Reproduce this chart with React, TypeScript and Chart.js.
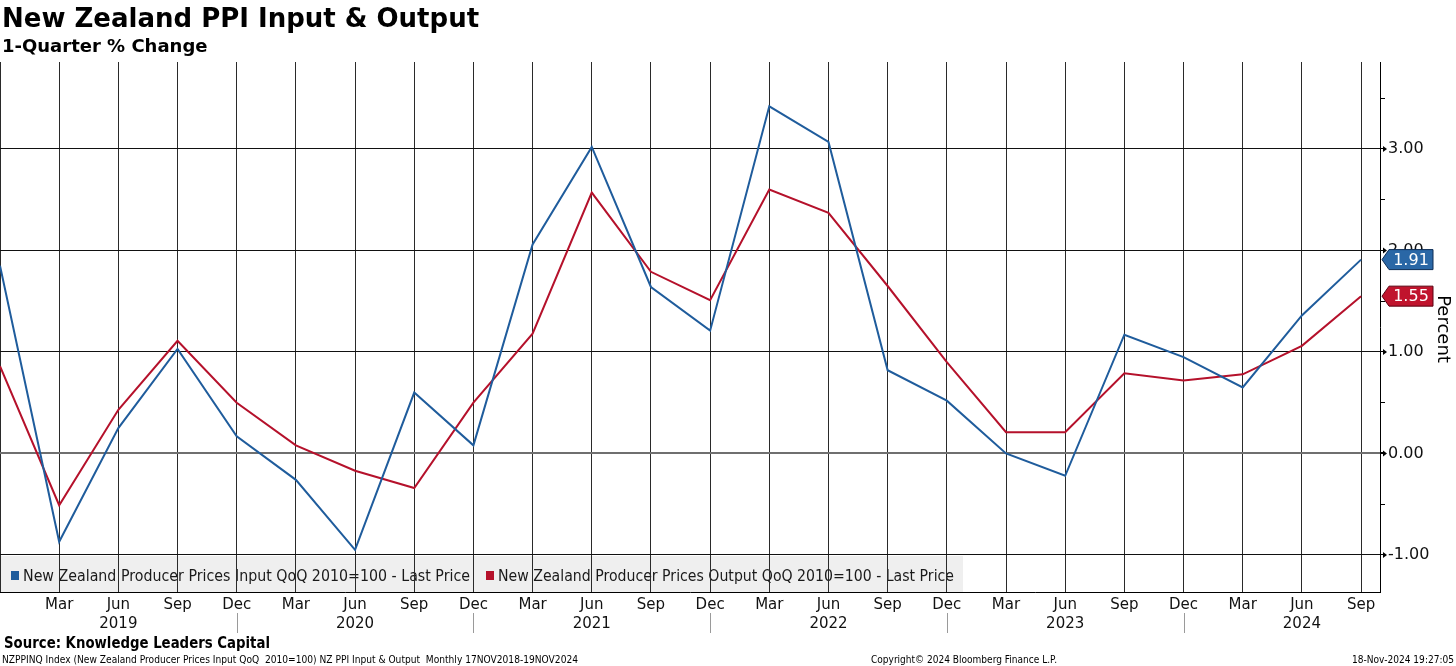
import React, { useEffect, useRef } from "react";
import { Chart, registerables } from "chart.js";

Chart.register(...registerables);

// ---- data ----
const months = [
  "Dec",
  "Mar", "Jun", "Sep", "Dec",
  "Mar", "Jun", "Sep", "Dec",
  "Mar", "Jun", "Sep", "Dec",
  "Mar", "Jun", "Sep", "Dec",
  "Mar", "Jun", "Sep", "Dec",
  "Mar", "Jun", "Sep",
];
const years = [
  2018,
  2019, 2019, 2019, 2019,
  2020, 2020, 2020, 2020,
  2021, 2021, 2021, 2021,
  2022, 2022, 2022, 2022,
  2023, 2023, 2023, 2023,
  2024, 2024, 2024,
];
const inputQoQ = [
  1.85, -0.87, 0.25, 1.03, 0.17, -0.26, -0.95, 0.6, 0.08, 2.06, 3.02, 1.64,
  1.21, 3.42, 3.07, 0.82, 0.52, 0.0, -0.22, 1.17, 0.95, 0.65, 1.36, 1.91,
];
const outputQoQ = [
  0.86, -0.51, 0.43, 1.11, 0.5, 0.08, -0.17, -0.34, 0.5, 1.18, 2.57, 1.79,
  1.51, 2.6, 2.37, 1.65, 0.9, 0.21, 0.21, 0.79, 0.72, 0.78, 1.06, 1.55,
];
const yTicks = [-1, -0.5, 0, 0.5, 1, 1.5, 2, 2.5, 3, 3.5];

const inputLabel = "New Zealand Producer Prices Input QoQ 2010=100 - Last Price";
const outputLabel = "New Zealand Producer Prices Output QoQ 2010=100 - Last Price";

const BLUE = "#1f5c9c";
const RED = "#b5112b";
const FONT = "'DejaVu Sans', Verdana, sans-serif";

const W = 1456;
const H = 666;

const decor = {
  id: "decor",
  beforeDraw(chart: any) {
    const ctx = chart.ctx;
    const { chartArea } = chart;
    ctx.save();
    ctx.fillStyle = "#ffffff";
    ctx.fillRect(0, 0, chart.width, chart.height);
    // legend box (drawn under grid lines)
    const ly = chart.scales.y.getPixelForValue(-1) + 1;
    ctx.fillStyle = "#efefef";
    ctx.fillRect(chartArea.left, ly, 963, chartArea.bottom - ly);
    ctx.font = `15px ${FONT}`;
    ctx.textBaseline = "alphabetic";
    ctx.fillStyle = BLUE;
    ctx.fillRect(11, 571, 8, 9);
    ctx.fillStyle = "#1a1a1a";
    ctx.fillText(inputLabel, 23, 581, 447);
    ctx.fillStyle = RED;
    ctx.fillRect(486, 571, 8, 9);
    ctx.fillStyle = "#1a1a1a";
    ctx.fillText(outputLabel, 498, 581, 456);
    ctx.restore();
  },
  afterDraw(chart: any) {
    const ctx = chart.ctx;
    const xs = chart.scales.x;
    const ys = chart.scales.y;
    ctx.save();
    // titles
    ctx.fillStyle = "#000";
    ctx.textAlign = "left";
    ctx.textBaseline = "alphabetic";
    ctx.font = `bold 26px ${FONT}`;
    ctx.fillText("New Zealand PPI Input & Output", 2, 27, 490);
    ctx.font = `bold 18px ${FONT}`;
    ctx.fillText("1-Quarter % Change", 2, 52, 218);
    // footer
    ctx.font = `bold 15px ${FONT}`;
    ctx.fillText("Source: Knowledge Leaders Capital", 4, 648, 266);
    ctx.font = `10px ${FONT}`;
    ctx.fillText(
      "NZPPINQ Index (New Zealand Producer Prices Input QoQ  2010=100) NZ PPI Input & Output  Monthly 17NOV2018-19NOV2024",
      2, 663, 576
    );
    ctx.fillText("Copyright\u00A9 2024 Bloomberg Finance L.P.", 871, 663, 186);
    ctx.textAlign = "right";
    ctx.fillText("18-Nov-2024 19:27:05", 1454, 663, 102);

    // year separators
    ctx.strokeStyle = "#9a9a9a";
    ctx.lineWidth = 1;
    months.forEach((m, i) => {
      if (m === "Dec" && i > 0) {
        const x = Math.round(xs.getPixelForValue(i)) + 0.5;
        ctx.beginPath();
        ctx.moveTo(x, 613);
        ctx.lineTo(x, 633);
        ctx.stroke();
      }
    });

    // arrowheads on major y ticks
    ctx.fillStyle = "#000";
    yTicks.forEach((v) => {
      if (Number.isInteger(v)) {
        const y = ys.getPixelForValue(v);
        const x0 = chart.chartArea.right;
        ctx.beginPath();
        ctx.moveTo(x0 + 7, y);
        ctx.lineTo(x0 + 3, y - 3);
        ctx.lineTo(x0 + 3, y + 3);
        ctx.closePath();
        ctx.fill();
      }
    });

    // Percent label
    ctx.save();
    ctx.translate(1443, 329);
    ctx.rotate(Math.PI / 2);
    ctx.textAlign = "center";
    ctx.textBaseline = "middle";
    ctx.font = `18px ${FONT}`;
    ctx.fillStyle = "#000";
    ctx.fillText("Percent", 0, 0);
    ctx.restore();

    // last value tags
    const tag = (val: number, color: string, border: string) => {
      const y = ys.getPixelForValue(val);
      const x0 = chart.chartArea.right + 2;
      ctx.beginPath();
      ctx.moveTo(x0, y);
      ctx.lineTo(x0 + 7, y - 10);
      ctx.lineTo(x0 + 51, y - 10);
      ctx.lineTo(x0 + 51, y + 10);
      ctx.lineTo(x0 + 7, y + 10);
      ctx.closePath();
      ctx.fillStyle = color;
      ctx.fill();
      ctx.strokeStyle = border;
      ctx.lineWidth = 1;
      ctx.stroke();
      ctx.fillStyle = "#fff";
      ctx.font = `16px ${FONT}`;
      ctx.textAlign = "center";
      ctx.textBaseline = "middle";
      ctx.fillText(val.toFixed(2), x0 + 29, y + 1);
    };
    tag(inputQoQ[inputQoQ.length - 1], "#2a67a6", "#0d2d55");
    tag(outputQoQ[outputQoQ.length - 1], "#c0142d", "#5a0010");
    ctx.restore();
  },
};

export default function App() {
  const ref = useRef<HTMLCanvasElement | null>(null);

  useEffect(() => {
    document.body.style.margin = "0";
    const canvas = ref.current;
    if (!canvas) return;
    const chart = new Chart(canvas, {
      type: "line",
      data: {
        datasets: [
          {
            label: inputLabel,
            data: inputQoQ.map((v, i) => ({ x: i, y: v })),
            borderColor: BLUE,
            borderWidth: 2,
            pointRadius: 0,
            tension: 0,
          },
          {
            label: outputLabel,
            data: outputQoQ.map((v, i) => ({ x: i, y: v })),
            borderColor: RED,
            borderWidth: 2,
            pointRadius: 0,
            tension: 0,
          },
        ],
      },
      options: {
        animation: false,
        responsive: false,
        devicePixelRatio: 1,
        layout: { padding: { top: 62, left: 0, right: 0, bottom: 0 } },
        plugins: {
          legend: { display: false },
          tooltip: { enabled: false },
          title: { display: false },
        },
        scales: {
          x: {
            type: "linear",
            min: 0,
            max: 23.32,
            afterBuildTicks: (scale: any) => {
              scale.ticks = months.map((_, i) => ({ value: i }));
            },
            afterFit: (scale: any) => {
              scale.height = H - 592;
              scale.paddingLeft = 0;
              scale.paddingRight = 0;
            },
            grid: {
              color: "#2a2a2a",
              lineWidth: 1,
              drawTicks: false,
            },
            border: { display: true, color: "#000", width: 1 },
            ticks: {
              autoSkip: false,
              maxRotation: 0,
              padding: 4,
              color: "#111",
              font: { family: FONT, size: 15, lineHeight: 1.27 },
              callback: (v: any) => {
                const i = Math.round(Number(v));
                if (i === 0) return ["", ""];
                return [months[i], months[i] === "Jun" ? String(years[i]) : ""];
              },
            },
          },
          y: {
            type: "linear",
            position: "right",
            min: -1.365,
            max: 3.857,
            afterBuildTicks: (scale: any) => {
              scale.ticks = yTicks.map((v) => ({ value: v }));
            },
            afterFit: (scale: any) => {
              scale.width = W - 1380;
              scale.paddingTop = 0;
              scale.paddingBottom = 0;
            },
            grid: {
              color: (c: any) => {
                const v = c.tick ? c.tick.value : null;
                if (v === 0) return "#6f6f6f";
                return Number.isInteger(v) ? "#111" : "rgba(0,0,0,0)";
              },
              lineWidth: (c: any) => (c.tick && c.tick.value === 0 ? 2 : 1),
              tickColor: "#000",
              tickLength: 5,
            },
            border: { display: true, color: "#000", width: 1 },
            ticks: {
              padding: 3,
              color: "#111",
              font: { family: FONT, size: 16 },
              callback: (v: any) => (Number.isInteger(v) ? Number(v).toFixed(2) : ""),
            },
          },
        },
      },
      plugins: [decor],
    } as any);
    return () => chart.destroy();
  }, []);

  return (
    <div style={{ width: W, height: H }}>
      <canvas ref={ref} width={W} height={H} style={{ width: W, height: H, display: "block" }} />
    </div>
  );
}
